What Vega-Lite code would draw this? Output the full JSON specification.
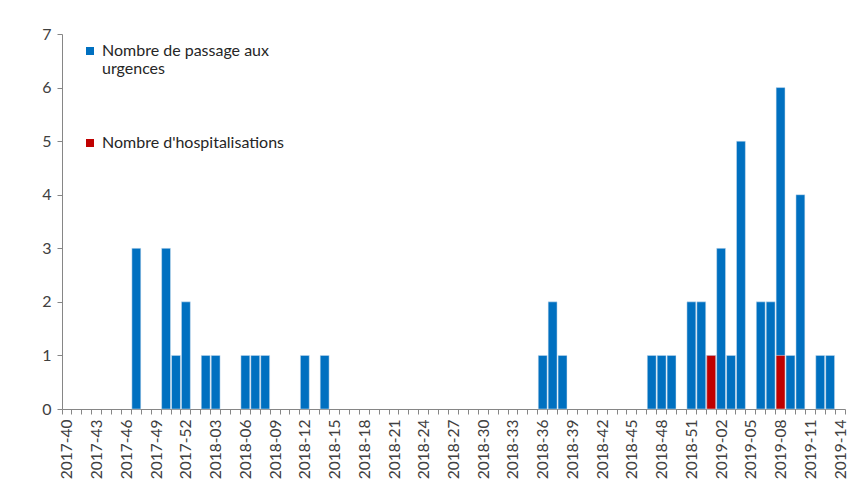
{
  "$schema": "https://vega.github.io/schema/vega-lite/v6.json",
  "width": 783,
  "height": 375,
  "autosize": "none",
  "padding": {"left": 62, "top": 34, "right": 8, "bottom": 79},
  "background": "white",
  "config": {
    "view": {"stroke": null},
    "font": "Lato"
  },
  "data": {
    "values": [
      {"semaine": "2017-47", "serie": "Nombre de passage aux urgences", "valeur": 3},
      {"semaine": "2017-50", "serie": "Nombre de passage aux urgences", "valeur": 3},
      {"semaine": "2017-51", "serie": "Nombre de passage aux urgences", "valeur": 1},
      {"semaine": "2017-52", "serie": "Nombre de passage aux urgences", "valeur": 2},
      {"semaine": "2018-02", "serie": "Nombre de passage aux urgences", "valeur": 1},
      {"semaine": "2018-03", "serie": "Nombre de passage aux urgences", "valeur": 1},
      {"semaine": "2018-06", "serie": "Nombre de passage aux urgences", "valeur": 1},
      {"semaine": "2018-07", "serie": "Nombre de passage aux urgences", "valeur": 1},
      {"semaine": "2018-08", "serie": "Nombre de passage aux urgences", "valeur": 1},
      {"semaine": "2018-12", "serie": "Nombre de passage aux urgences", "valeur": 1},
      {"semaine": "2018-14", "serie": "Nombre de passage aux urgences", "valeur": 1},
      {"semaine": "2018-36", "serie": "Nombre de passage aux urgences", "valeur": 1},
      {"semaine": "2018-37", "serie": "Nombre de passage aux urgences", "valeur": 2},
      {"semaine": "2018-38", "serie": "Nombre de passage aux urgences", "valeur": 1},
      {"semaine": "2018-47", "serie": "Nombre de passage aux urgences", "valeur": 1},
      {"semaine": "2018-48", "serie": "Nombre de passage aux urgences", "valeur": 1},
      {"semaine": "2018-49", "serie": "Nombre de passage aux urgences", "valeur": 1},
      {"semaine": "2018-51", "serie": "Nombre de passage aux urgences", "valeur": 2},
      {"semaine": "2018-52", "serie": "Nombre de passage aux urgences", "valeur": 2},
      {"semaine": "2019-01", "serie": "Nombre de passage aux urgences", "valeur": 1},
      {"semaine": "2019-02", "serie": "Nombre de passage aux urgences", "valeur": 3},
      {"semaine": "2019-03", "serie": "Nombre de passage aux urgences", "valeur": 1},
      {"semaine": "2019-04", "serie": "Nombre de passage aux urgences", "valeur": 5},
      {"semaine": "2019-06", "serie": "Nombre de passage aux urgences", "valeur": 2},
      {"semaine": "2019-07", "serie": "Nombre de passage aux urgences", "valeur": 2},
      {"semaine": "2019-08", "serie": "Nombre de passage aux urgences", "valeur": 6},
      {"semaine": "2019-09", "serie": "Nombre de passage aux urgences", "valeur": 1},
      {"semaine": "2019-10", "serie": "Nombre de passage aux urgences", "valeur": 4},
      {"semaine": "2019-12", "serie": "Nombre de passage aux urgences", "valeur": 1},
      {"semaine": "2019-13", "serie": "Nombre de passage aux urgences", "valeur": 1},
      {"semaine": "2019-01", "serie": "Nombre d'hospitalisations", "valeur": 1},
      {"semaine": "2019-08", "serie": "Nombre d'hospitalisations", "valeur": 1}
    ]
  },
  "mark": {"type": "bar", "stroke": "#dfe9f3", "strokeWidth": 0.5},
  "encoding": {
    "x": {
      "field": "semaine",
      "type": "ordinal",
      "title": null,
      "scale": {
        "paddingInner": 0.1,
        "paddingOuter": 0.05,
        "domain": ["2017-40","2017-41","2017-42","2017-43","2017-44","2017-45","2017-46","2017-47","2017-48","2017-49","2017-50","2017-51","2017-52",
          "2018-01","2018-02","2018-03","2018-04","2018-05","2018-06","2018-07","2018-08","2018-09","2018-10","2018-11","2018-12","2018-13","2018-14","2018-15","2018-16","2018-17","2018-18","2018-19","2018-20","2018-21","2018-22","2018-23","2018-24","2018-25","2018-26","2018-27","2018-28","2018-29","2018-30","2018-31","2018-32","2018-33","2018-34","2018-35","2018-36","2018-37","2018-38","2018-39","2018-40","2018-41","2018-42","2018-43","2018-44","2018-45","2018-46","2018-47","2018-48","2018-49","2018-50","2018-51","2018-52",
          "2019-01","2019-02","2019-03","2019-04","2019-05","2019-06","2019-07","2019-08","2019-09","2019-10","2019-11","2019-12","2019-13","2019-14"]
      },
      "axis": {
        "labelAngle": -90,
        "labelFontSize": 15.5,
        "labelColor": "#404040",
        "labelPadding": 5,
        "labelBound": false,
        "labelOverlap": false,
        "labelExpr": "indexof(['2017-40','2017-43','2017-46','2017-49','2017-52','2018-03','2018-06','2018-09','2018-12','2018-15','2018-18','2018-21','2018-24','2018-27','2018-30','2018-33','2018-36','2018-39','2018-42','2018-45','2018-48','2018-51','2019-02','2019-05','2019-08','2019-11','2019-14'], datum.value) >= 0 ? datum.value : ''",
        "tickBand": "extent",
        "tickSize": 5,
        "tickColor": "#868686",
        "domainColor": "#868686",
        "grid": false
      }
    },
    "y": {
      "field": "valeur",
      "type": "quantitative",
      "stack": null,
      "title": null,
      "scale": {"domain": [0, 7], "nice": false},
      "axis": {
        "values": [0, 1, 2, 3, 4, 5, 6, 7],
        "labelFontSize": 16,
        "labelColor": "#404040",
        "labelPadding": 6,
        "tickSize": 5,
        "tickColor": "#868686",
        "domainColor": "#868686",
        "grid": false
      }
    },
    "color": {
      "field": "serie",
      "type": "nominal",
      "scale": {
        "domain": ["Nombre de passage aux urgences", "Nombre d'hospitalisations"],
        "range": ["#0070C0", "#C00000"]
      },
      "legend": {
        "title": null,
        "orient": "none",
        "legendX": 20,
        "legendY": 9,
        "symbolType": "square",
        "symbolSize": 64,
        "symbolStrokeWidth": 0,
        "labelFontSize": 16,
        "labelColor": "#262626",
        "labelLimit": 400,
        "rowPadding": 58,
        "labelExpr": "datum.label == 'Nombre de passage aux urgences' ? ['Nombre de passage aux', 'urgences'] : datum.label"
      }
    },
    "order": {"field": "serie", "sort": "descending"}
  }
}
